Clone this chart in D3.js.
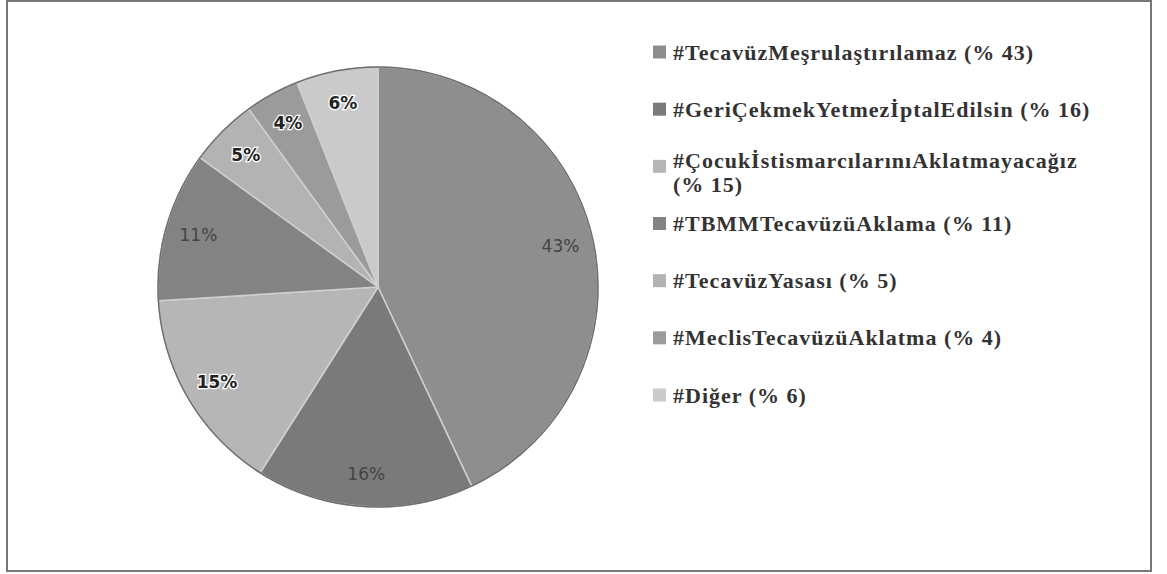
<!DOCTYPE html>
<html>
<head>
<meta charset="utf-8">
<script src="https://cdn.jsdelivr.net/npm/d3@7"></script>
<style>
  body { margin: 0; background: #fff; }
</style>
</head>
<body>
<div id="chart"></div>
<script>
// slice data, clockwise from 12 o'clock
const tags = ["#TecavüzMeşrulaştırılamaz", "#GeriÇekmekYetmezİptalEdilsin",
  "#ÇocukİstismarcılarınıAklatmayacağız", "#TBMMTecavüzüAklama",
  "#TecavüzYasası", "#MeclisTecavüzüAklatma", "#Diğer"];
const shares = [43, 16, 15, 11, 5, 4, 6];
const sliceColors = ["#8e8e8e", "#7a7a7a", "#b6b6b6", "#838383", "#b3b3b3", "#9b9b9b", "#cacaca"];
const boldLabel = [false, false, true, false, true, true, true];

const width = 1167, height = 574;
const cx = 378, cy = 287, radius = 220;

const svg = d3.select("#chart").append("svg")
  .attr("width", width)
  .attr("height", height);

// outer frame
svg.append("rect")
  .attr("x", 7).attr("y", 1)
  .attr("width", 1144).attr("height", 570)
  .attr("fill", "#fff")
  .attr("stroke", "#777")
  .attr("stroke-width", 2);

const pie = d3.pie().sort(null).value(d => d);
const arcs = pie(shares);

const g = svg.append("g").attr("transform", `translate(${cx},${cy})`);

g.selectAll("path")
  .data(arcs)
  .join("path")
  .attr("d", d3.arc().innerRadius(0).outerRadius(radius))
  .attr("fill", (d, i) => sliceColors[i])
  .attr("stroke", "#d0d0d0")
  .attr("stroke-width", 1.5);

// darker rim
g.append("circle")
  .attr("r", radius)
  .attr("fill", "none")
  .attr("stroke", "#6e6e6e")
  .attr("stroke-width", 1.5);

// percent labels inside the slices
const labelArc = d3.arc().innerRadius(radius * 0.85).outerRadius(radius * 0.85);
g.selectAll("text.pct")
  .data(arcs)
  .join("text")
  .attr("class", "pct")
  .attr("transform", d => `translate(${labelArc.centroid(d)})`)
  .attr("text-anchor", "middle")
  .attr("dominant-baseline", "central")
  .style("font-family", "'DejaVu Sans', Verdana, sans-serif")
  .style("font-size", "17px")
  .style("font-weight", (d, i) => boldLabel[i] ? "bold" : "normal")
  .style("fill", (d, i) => boldLabel[i] ? "#222" : "#444")
  .style("paint-order", "stroke")
  .style("stroke", (d, i) => boldLabel[i] ? "#fff" : "none")
  .style("stroke-width", "2.5px")
  .text(d => d.data + "%");

// legend
const legendY = d3.scaleLinear().domain([0, 6]).range([52, 395]);
const legend = svg.append("g");
const rows = legend.selectAll("g")
  .data(tags)
  .join("g")
  .attr("transform", (d, i) => `translate(653, ${legendY(i)})`);

rows.append("rect")
  .attr("x", 0).attr("y", -6.5)
  .attr("width", 13).attr("height", 13)
  .attr("fill", (d, i) => sliceColors[i]);

rows.append("text")
  .attr("x", 20)
  .attr("y", 0)
  .attr("dominant-baseline", "central")
  .style("font-family", "'Liberation Serif', 'Times New Roman', serif")
  .style("font-size", "22px")
  .style("font-weight", "bold")
  .style("letter-spacing", "1px")
  .style("fill", "#333")
  .each(function (d, i) {
    const t = d3.select(this);
    if (d.length > 30) {
      t.append("tspan").attr("x", 20).attr("dy", "-0.3em").text(d);
      t.append("tspan").attr("x", 20).attr("dy", "1.1em").text("(% " + shares[i] + ")");
    } else {
      t.text(d + " (% " + shares[i] + ")");
    }
  });
</script>
</body>
</html>
